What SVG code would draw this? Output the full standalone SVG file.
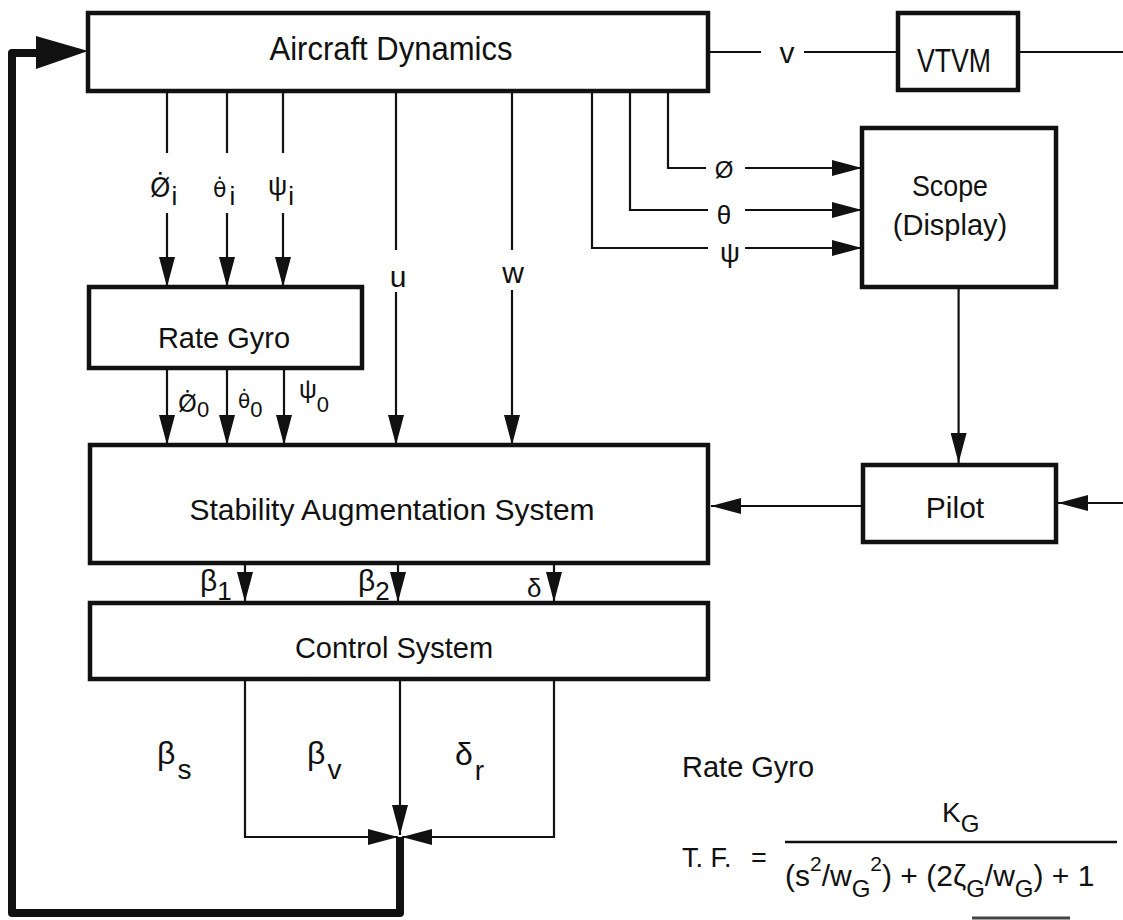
<svg xmlns="http://www.w3.org/2000/svg" width="1123" height="920" viewBox="0 0 1123 920">
<style>
.box{fill:#fff;stroke:#111;stroke-width:4.5}
.ln{fill:none;stroke:#111;stroke-width:2.2}
.thick{fill:none;stroke:#111;stroke-width:8;stroke-linejoin:round}
.t{font-family:"Liberation Sans",Arial,sans-serif;fill:#111}
.c{text-anchor:middle}
.dv{font-family:"DejaVu Sans","Liberation Sans",sans-serif}
</style>
<defs>
<marker id="ah" viewBox="0 0 30 16" refX="30" refY="8" markerWidth="30" markerHeight="16" orient="auto" markerUnits="userSpaceOnUse">
<path d="M0,0 L30,8 L0,16 Z" fill="#111"/>
</marker>
</defs>
<rect width="1123" height="920" fill="#fff"/>

<g id="connectors">
<path class="thick" d="M400,837 V913 H12 V53 H40"/>
<polygon points="36,36 88,51 36,69" fill="#111"/>
<path class="ln" d="M167,91 V153 M227,91 V153 M283,91 V153"/>
<path class="ln" marker-end="url(#ah)" d="M167,213 V287"/>
<path class="ln" marker-end="url(#ah)" d="M227,213 V287"/>
<path class="ln" marker-end="url(#ah)" d="M283,213 V287"/>
<path class="ln" d="M396,91 V250 M512,91 V250"/>
<path class="ln" marker-end="url(#ah)" d="M396,292 V445"/>
<path class="ln" marker-end="url(#ah)" d="M512,290 V445"/>
<path class="ln" marker-end="url(#ah)" d="M167,368 V445"/>
<path class="ln" marker-end="url(#ah)" d="M227,368 V445"/>
<path class="ln" marker-end="url(#ah)" d="M284,368 V445"/>
<path class="ln" d="M668,91 V168 H706 M630,91 V210 H708 M592,91 V248 H708"/>
<path class="ln" marker-end="url(#ah)" d="M745,168 H862"/>
<path class="ln" marker-end="url(#ah)" d="M745,210 H862"/>
<path class="ln" marker-end="url(#ah)" d="M745,248 H862"/>
<path class="ln" d="M708,52 H761 M804,52 H898 M1018,52 H1123"/>
<path class="ln" marker-end="url(#ah)" d="M958.6,287 V463"/>
<path class="ln" marker-end="url(#ah)" d="M863,506 H711"/>
<path class="ln" marker-end="url(#ah)" d="M1123,503 H1058"/>
<path class="ln" marker-end="url(#ah)" d="M245,563 V602"/>
<path class="ln" marker-end="url(#ah)" d="M398,563 V602"/>
<path class="ln" marker-end="url(#ah)" d="M554,563 V602"/>
<path class="ln" marker-end="url(#ah)" d="M245,679 V837 H398"/>
<path class="ln" marker-end="url(#ah)" d="M554,679 V837 H402"/>
<path class="ln" marker-end="url(#ah)" d="M400,679 V835"/>
<line x1="972" y1="918" x2="1070" y2="918" stroke="#444" stroke-width="3"/>
</g>

<g id="aircraft">
<rect class="box" x="88" y="13" width="620" height="78"/>
<text class="t c" x="391" y="60" font-size="33" textLength="243" lengthAdjust="spacingAndGlyphs">Aircraft Dynamics</text>
</g>
<g id="vtvm">
<rect class="box" x="898" y="13" width="120" height="77"/>
<text class="t c" x="954" y="72" font-size="33" textLength="74" lengthAdjust="spacingAndGlyphs">VTVM</text>
</g>
<g id="scope">
<rect class="box" x="862" y="128" width="194" height="159"/>
<text class="t c" x="950" y="196" font-size="30" textLength="76" lengthAdjust="spacingAndGlyphs">Scope</text>
<text class="t c" x="950" y="235" font-size="29">(Display)</text>
</g>
<g id="rategyro">
<rect class="box" x="89" y="287" width="273" height="81"/>
<text class="t c" x="224" y="348" font-size="29">Rate Gyro</text>
</g>
<g id="sas">
<rect class="box" x="90" y="445" width="618" height="118"/>
<text class="t c" x="392" y="520" font-size="30">Stability Augmentation System</text>
</g>
<g id="pilot">
<rect class="box" x="863" y="465" width="193" height="77"/>
<text class="t c" x="955" y="518" font-size="30">Pilot</text>
</g>
<g id="control">
<rect class="box" x="90" y="603" width="618" height="76"/>
<text class="t c" x="394" y="658" font-size="29">Control System</text>
</g>

<g id="labels">
<text class="t" x="150" y="197" font-size="26"><tspan class="dv">Ø̇</tspan><tspan dx="1" dy="8" font-size="26">i</tspan></text>
<text class="t" x="213" y="197" font-size="22"><tspan class="dv">θ̇</tspan><tspan dx="3" dy="8" font-size="26">i</tspan></text>
<text class="t" x="268" y="195" font-size="27">ψ<tspan dx="1" dy="10" font-size="26">i</tspan></text>
<text class="t c" x="398" y="287" font-size="30">u</text>
<text class="t c" x="513" y="283" font-size="30">w</text>
<text class="t" x="178" y="412" font-size="24"><tspan class="dv">Ø̇</tspan><tspan dy="5" font-size="22">0</tspan></text>
<text class="t" x="238" y="408" font-size="20"><tspan class="dv">θ̇</tspan><tspan dy="9" font-size="22">0</tspan></text>
<text class="t" x="299" y="398" font-size="25">ψ<tspan dy="14" font-size="22">0</tspan></text>
<text class="t c" x="724" y="178" font-size="24">Ø</text>
<text class="t c" x="724" y="224" font-size="26">θ</text>
<text class="t c" x="730" y="262" font-size="28">ψ</text>
<text class="t c" x="787" y="63" font-size="30">v</text>
<text class="t" x="200" y="591" font-size="30">β<tspan dy="9" font-size="26">1</tspan></text>
<text class="t" x="358" y="591" font-size="30">β<tspan dy="9" font-size="26">2</tspan></text>
<text class="t" x="527" y="597" font-size="26">δ</text>
<text class="t" x="157" y="764" font-size="32">β<tspan dx="2" dy="15" font-size="28">s</tspan></text>
<text class="t" x="307" y="764" font-size="32">β<tspan dx="2" dy="15" font-size="28">v</tspan></text>
<text class="t" x="455" y="765" font-size="32">δ<tspan dx="2" dy="15" font-size="28">r</tspan></text>
</g>

<g id="formula">
<text class="t" x="682" y="777" font-size="29">Rate Gyro</text>
<text class="t" x="942" y="822" font-size="28">K<tspan dy="10" font-size="24">G</tspan></text>
<line x1="785" y1="842" x2="1117" y2="842" stroke="#111" stroke-width="2.5"/>
<text class="t" x="682" y="867" font-size="27">T. F.<tspan x="751">=</tspan></text>
<text class="t" x="785" y="886" font-size="30">(s<tspan dy="-15" font-size="21">2</tspan><tspan dy="15">/w</tspan><tspan dy="11" font-size="24">G</tspan><tspan dy="-26" font-size="21">2</tspan><tspan dy="15">) + (2ζ</tspan><tspan dy="11" font-size="24">G</tspan><tspan dy="-11">/w</tspan><tspan dy="11" font-size="24">G</tspan><tspan dy="-11">) + 1</tspan></text>
</g>
</svg>
